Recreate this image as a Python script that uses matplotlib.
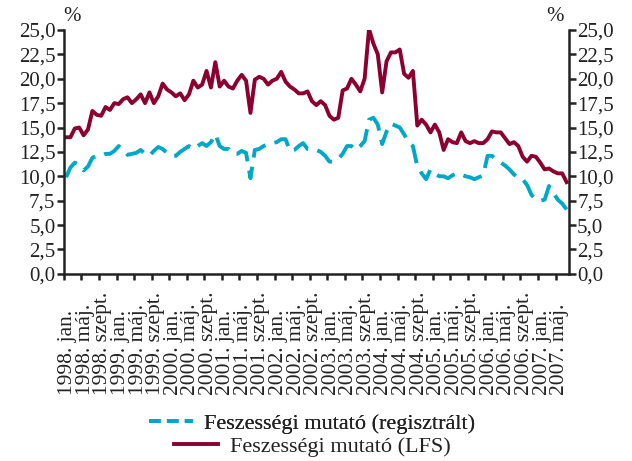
import numpy as np
import matplotlib
matplotlib.use("Agg")
import matplotlib.pyplot as plt
from matplotlib.lines import Line2D
import matplotlib.transforms as mtransforms

plt.rcParams['font.family'] = ['Liberation Serif', 'DejaVu Serif']

# monthly data, 1998 jan .. 2007 jul
years = list(range(1998, 2008))
months = ['jan.', 'máj.', 'szept.']

lfs = [14.0, 14.0, 14.9, 15.0, 14.2, 14.8, 16.7, 16.3, 16.2, 17.1,
       16.8, 17.5, 17.4, 17.9, 18.1, 17.5, 17.9, 18.4, 17.5, 18.6,
       17.5, 18.2, 19.5, 18.9, 18.6, 18.2, 18.5, 17.8, 18.4, 19.8,
       19.1, 19.4, 20.8, 19.1, 21.7, 19.2, 19.8, 19.2, 19.0, 19.8,
       20.4, 19.8, 16.5, 19.9, 20.2, 20.0, 19.4, 19.8, 20.0, 20.7,
       19.7, 19.2, 18.9, 18.5, 18.5, 18.7, 17.7, 17.3, 17.7, 17.3,
       16.2, 15.8, 16.0, 18.8, 19.0, 20.0, 19.4, 18.7, 20.0, 25.1,
       23.6, 22.5, 18.6, 21.8, 22.7, 22.7, 23.0, 20.5, 20.1, 20.8,
       15.2, 15.8, 15.3, 14.5, 15.3, 14.5, 12.7, 13.8, 13.5, 13.4,
       14.5, 13.6, 13.4, 13.6, 13.4, 13.4, 13.8, 14.6, 14.5, 14.5,
       13.9, 13.3, 13.5, 13.1, 12.0, 11.5, 12.1, 12.0, 11.4, 10.7,
       10.8, 10.5, 10.3, 10.3, 9.4]

reg = [9.9, 10.9, 11.4, 11.2, 10.6, 11.0, 11.9, 12.1, 12.1, 12.3,
       12.3, 12.6, 13.1, 12.7, 12.2, 12.3, 12.4, 12.7, 12.3, 12.1,
       12.6, 13.0, 12.8, 12.4, 12.1, 12.1, 12.5, 12.8, 13.1, 12.8,
       13.1, 13.4, 13.1, 13.5, 14.3, 13.1, 12.8, 12.8, 12.3, 12.3,
       12.6, 12.4, 9.8, 12.7, 12.8, 13.1, 13.3, 13.4, 13.5, 13.8,
       13.8, 12.6, 12.7, 13.1, 13.4, 12.8, 12.8, 12.7, 12.5, 12.1,
       11.5, 11.5, 11.8, 12.3, 13.1, 13.1, 12.7, 13.1, 13.6, 15.8,
       16.0, 15.3, 13.3, 14.6, 15.4, 15.2, 15.0, 14.3, 13.5, 13.1,
       11.0, 10.3, 9.7, 10.7, 10.3, 10.0, 10.0, 9.8, 10.1, 10.3,
       10.2, 10.0, 9.9, 9.7, 9.9, 10.1, 12.1, 12.1, 11.7, 11.4,
       11.1, 10.7, 10.2, 9.8, 9.7, 9.1, 8.1, 7.6, 7.5, 7.6,
       9.0, 8.3, 7.6, 7.2, 6.6]

tick_labels = [f'{y}. {m}' for y in years for m in months][:29]

red = '#8c0030'
blue = '#00a8c8'

fig = plt.figure(figsize=(6.32, 4.61), dpi=100)
ax = fig.add_axes([0.101, 0.406, 0.799, 0.529])

x = np.arange(len(lfs)) + 0.5
ax.plot(x, reg, color=blue, lw=2.8, dashes=(5, 2.4), solid_capstyle='butt')
ax.plot(x, lfs, color=red, lw=2.8)

ax.set_xlim(0, 115)
ax.set_ylim(0, 25)
yt = np.arange(0, 25.01, 2.5)
ax.set_yticks(yt)
ax.set_yticklabels([f'{v:.1f}'.replace('.', ',') for v in yt], fontsize=15)
ax.tick_params(axis='y', which='both', left=True, right=True, labelleft=True,
               labelright=True, direction='out', length=5, width=1.8,
               colors='#222222', pad=1)

ticks = np.arange(0, 113, 4)
ax.set_xticks(ticks)
ax.set_xticklabels([])
ax.tick_params(axis='x', direction='out', length=4, width=1.8, colors='#222222')

trans = mtransforms.blended_transform_factory(ax.transData, ax.transAxes)
for t, lab in zip(ticks, tick_labels):
    ax.text(t + 0.9, -0.497, lab, rotation=90, ha='center', va='bottom',
            fontsize=15.5, color='#222222', transform=trans)

for s in ['left', 'right', 'bottom']:
    ax.spines[s].set_linewidth(1.8)
    ax.spines[s].set_color('#222222')
ax.spines['top'].set_visible(False)

fig.text(0.114, 0.965, '%', fontsize=15, ha='center', va='center', color='#222222')
fig.text(0.878, 0.965, '%', fontsize=15, ha='center', va='center', color='#222222')

h1 = Line2D([], [], color=blue, lw=2.8, dashes=(3, 1.6))
h2 = Line2D([], [], color=red, lw=2.8)
leg1 = fig.legend([h1], ['Feszességi mutató (regisztrált)'], loc='center',
                  bbox_to_anchor=(0.494, 0.081), frameon=False, fontsize=16,
                  handlelength=2.0, handletextpad=0.5, borderpad=0)
fig.add_artist(leg1)
fig.legend([h2], ['Feszességi mutató (LFS)'], loc='center',
           bbox_to_anchor=(0.494, 0.031), frameon=False, fontsize=16,
           handlelength=2.0, handletextpad=0.5, borderpad=0)
for leg in fig.legends:
    for t in leg.get_texts():
        t.set_color('#222222')

fig.savefig('out.png', dpi=100)
